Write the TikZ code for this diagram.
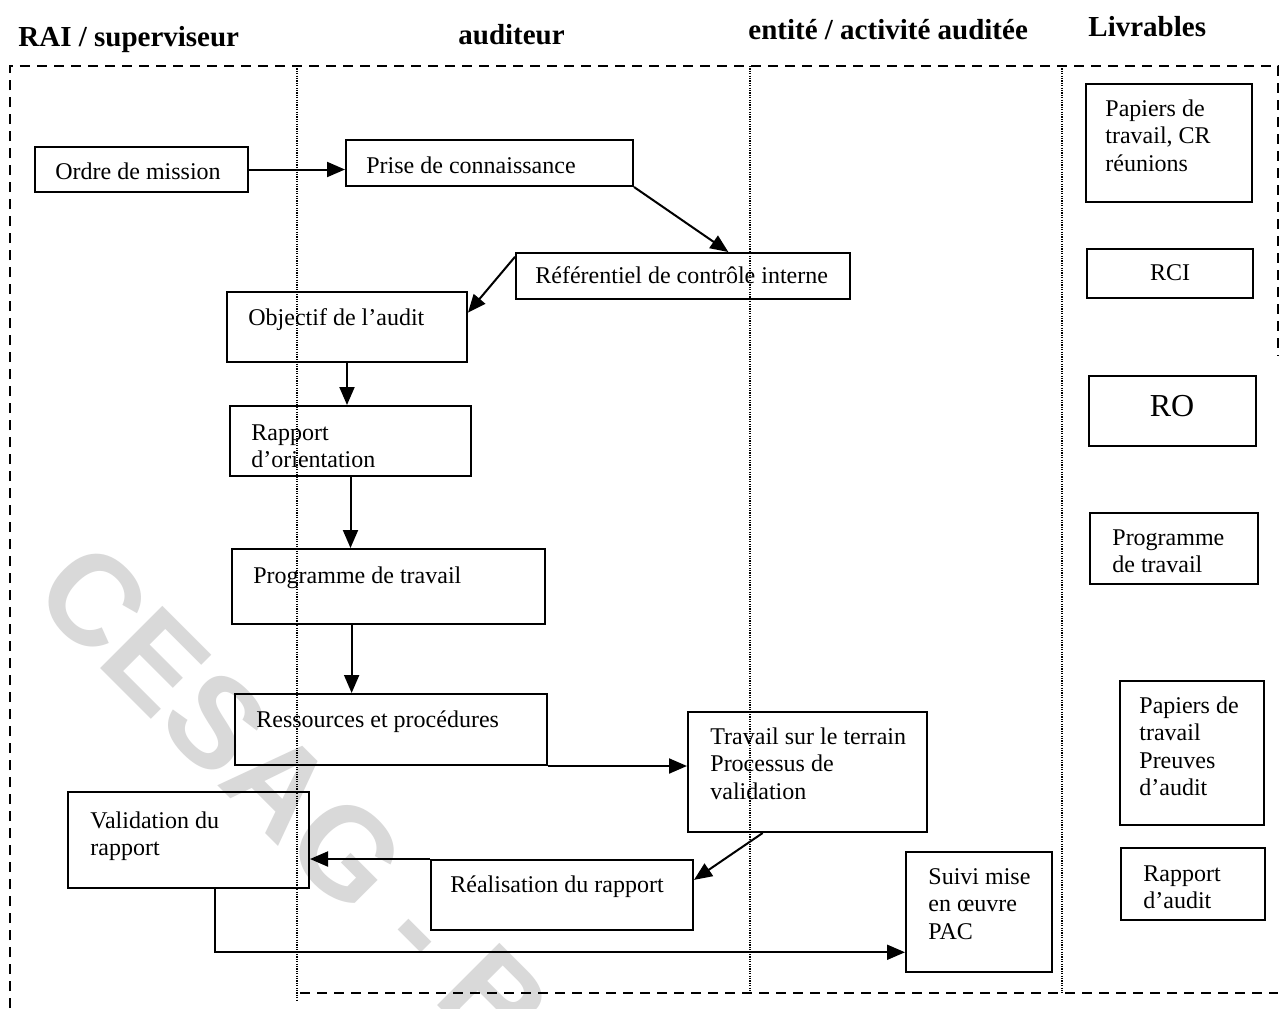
\documentclass[tikz,border=0pt]{standalone}
\usepackage{fontspec}
\setmainfont{Liberation Serif}
\newfontfamily\wmfont{Liberation Sans}
\usetikzlibrary{arrows.meta,calc,fit}

\begin{document}
\begin{tikzpicture}[x=0.5pt,y=-0.5pt,
  box/.style={draw, line width=1pt, inner sep=0pt, rectangle},
  txt/.style={anchor=north west, inner sep=0pt, align=left,
              font=\fontsize{12}{13.75}\selectfont},
  ctxt/.style={anchor=center, inner sep=0pt,
              font=\fontsize{12}{13.75}\selectfont},
  head/.style={anchor=west, inner sep=0pt,
              font=\bfseries\fontsize{14.5}{17}\selectfont},
  arr/.style={-{Triangle[length=9pt,width=7.5pt]}, line width=1pt},
  frame/.style={line width=1pt, dash pattern=on 5pt off 3.5pt},
  divider/.style={line width=0.7pt, dash pattern=on 0.6pt off 0.6pt},
  wm/.style={inner sep=0pt, text=black!15,
             font=\wmfont\bfseries\fontsize{64}{64}\selectfont}
]
\useasboundingbox (0,0) rectangle (1280,1008);
\fill[white] (0,0) rectangle (1280,1008);

% watermark
\begin{scope}
  \clip (0,0) rectangle (1280,1008);
  \node[wm, rotate=-45, anchor=base west] (wm) at (29,597) {CESAG - B};
\end{scope}

% column headings
\node[head] (h1) at (18,40) {RAI / superviseur};
\node[head] (h2) at (458,35) {auditeur};
\node[head] (h3) at (748,30) {entité / activité auditée};
\node[head] (h4) at (1088,27) {Livrables};

% outer dashed frame
\draw[frame] (10,1008) -- (10,66) -- (1278,66) -- (1278,356);
\draw[frame] (300,993) -- (1278,993);

% lane dividers
\draw[divider] (297,66) -- (297,1000);
\draw[divider] (750,66) -- (750,993);
\draw[divider] (1062,66) -- (1062,993);

% process boxes
\node[box, fit={(35,147)(248,192)}] (ordre) {};
\node[txt] (ordre-t) at (55,162) {Ordre de mission};

\node[box, fit={(346,140)(633,186)}] (prise) {};
\node[txt] (prise-t) at (366,156) {Prise de connaissance};

\node[box, fit={(516,253)(850,299)}] (ref) {};
\node[txt] (ref-t) at (535,266) {Référentiel de contrôle interne};

\node[box, fit={(227,292)(467,362)}] (obj) {};
\node[txt] (obj-t) at (248,308) {Objectif de l’audit};

\node[box, fit={(230,406)(471,476)}] (rapo) {};
\node[txt] (rapo-t) at (251,424) {Rapport\\d’orientation};

\node[box, fit={(232,549)(545,624)}] (prog) {};
\node[txt] (prog-t) at (253,566) {Programme de travail};

\node[box, fit={(235,694)(547,765)}] (ress) {};
\node[txt] (ress-t) at (256,710) {Ressources et procédures};

\node[box, fit={(688,712)(927,832)}] (trav) {};
\node[txt] (trav-t) at (710,727) {Travail sur le terrain\\Processus de\\validation};

\node[box, fit={(68,792)(309,888)}] (valid) {};
\node[txt] (valid-t) at (90,811) {Validation du\\rapport};

\node[box, fit={(431,860)(693,930)}] (real) {};
\node[txt] (real-t) at (450,875) {Réalisation du rapport};

\node[box, fit={(906,852)(1052,972)}] (suivi) {};
\node[txt] (suivi-t) at (928,868) {Suivi mise\\en œuvre\\PAC};

% deliverables
\node[box, fit={(1086,84)(1252,202)}] (liv1) {};
\node[txt] (liv1-t) at (1105,99) {Papiers de\\travail, CR\\réunions};

\node[box, fit={(1087,249)(1253,298)}] (liv2) {};
\node[ctxt] (liv2-t) at (1170,273) {RCI};

\node[box, fit={(1089,376)(1256,446)}] (liv3) {};
\node[ctxt, font=\fontsize{16}{18}\selectfont] (liv3-t) at (1172,406) {RO};

\node[box, fit={(1090,513)(1258,584)}] (liv4) {};
\node[txt] (liv4-t) at (1112,529) {Programme\\de travail};

\node[box, fit={(1120,681)(1264,825)}] (liv5) {};
\node[txt] (liv5-t) at (1139,696) {Papiers de\\travail\\Preuves\\d’audit};

\node[box, fit={(1121,848)(1265,920)}] (liv6) {};
\node[txt] (liv6-t) at (1143,865) {Rapport\\d’audit};

% connectors
\draw[arr] (ordre.east) -- (ordre.east -| prise.west);
\draw[arr] (prise.south east) -- ($(ref.north west)!0.635!(ref.north east)$);
\draw[arr] ($(ref.north west)!0.1!(ref.south west)$) -- ($(obj.north east)!0.3!(obj.south east)$);
\draw[arr] (obj.south) -- (obj.south |- rapo.north);
\draw[arr] (rapo.south) -- (rapo.south |- prog.north);
\draw[arr] ($(prog.south west)!0.383!(prog.south east)$) coordinate (p6) -- (p6 |- ress.north);
\draw[arr] (ress.south east) -- (ress.south east -| trav.west);
\draw[arr] ($(trav.south west)!0.314!(trav.south east)$) -- ($(real.north east)!0.29!(real.south east)$);
\draw[arr] (real.north west) -- (real.north west -| valid.east);
\draw[arr] ($(valid.south west)!0.61!(valid.south east)$) coordinate (v0) |- ($(suivi.north west)!0.83!(suivi.south west)$);
\end{tikzpicture}
\end{document}
